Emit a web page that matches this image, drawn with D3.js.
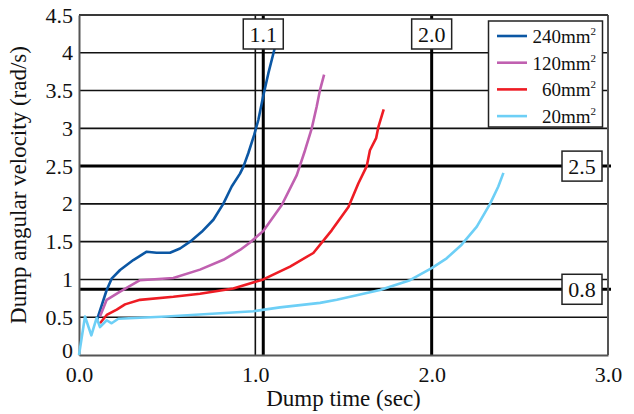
<!DOCTYPE html>
<html><head><meta charset="utf-8">
<script src="https://cdn.jsdelivr.net/npm/d3@7"></script>
<style>
html,body{margin:0;padding:0;background:#fff;}
text{font-family:"Liberation Serif","Times New Roman",serif;fill:#111;}
</style></head>
<body><svg id="c" width="634" height="414"></svg>
<script>
const seriesNames = ["240mm", "120mm", "60mm", "20mm"];
const seriesColors = ["#0b57a4", "#c060b0", "#ee1c24", "#6dcff6"];
const s240 = [[0.10,0.45],[0.157,0.86],[0.185,1.01],[0.233,1.125],[0.308,1.257],[0.384,1.367],[0.44,1.354],[0.516,1.354],[0.573,1.41],[0.63,1.5],[0.696,1.63],[0.762,1.79],[0.818,2.0],[0.866,2.23],[0.913,2.40],[0.932,2.49],[0.96,2.67],[0.993,2.91],[1.017,3.11],[1.046,3.44],[1.074,3.73],[1.112,4.08]];
const s120 = [[0.119,0.51],[0.157,0.73],[0.233,0.84],[0.346,0.99],[0.535,1.02],[0.686,1.13],[0.819,1.26],[0.913,1.39],[0.97,1.49],[1.045,1.64],[1.15,1.985],[1.235,2.38],[1.282,2.71],[1.32,3.0],[1.348,3.29],[1.367,3.51],[1.39,3.71]];
const s60 = [[0.119,0.42],[0.157,0.53],[0.214,0.60],[0.261,0.67],[0.346,0.73],[0.535,0.77],[0.686,0.81],[0.875,0.88],[1.045,1.0],[1.197,1.17],[1.329,1.35],[1.433,1.65],[1.528,1.96],[1.584,2.27],[1.632,2.50],[1.65,2.71],[1.685,2.87],[1.698,3.02],[1.728,3.25]];
const s20 = [[0,0],[0.034,0.51],[0.07,0.26],[0.10,0.49],[0.119,0.37],[0.157,0.46],[0.185,0.42],[0.223,0.48],[0.497,0.51],[0.989,0.58],[1.14,0.63],[1.367,0.69],[1.462,0.73],[1.707,0.86],[1.877,0.99],[2.0,1.15],[2.085,1.28],[2.17,1.46],[2.256,1.70],[2.331,2.0],[2.378,2.23],[2.407,2.41]];
const seriesData = [s240, s120, s60, s20];
const xTicks = [0, 1, 2, 3];
const yTicks = [0, 0.5, 1, 1.5, 2, 2.5, 3, 3.5, 4, 4.5];
const vMarkers = [1.045, 2.0];
const vMarkerLabels = ["1.1", "2.0"];
const hMarkers = [2.5, 0.87];
const hMarkerLabels = ["2.5", "0.8"];

const svg = d3.select("#c");
const L = 79, T = 15, R = 608, B = 355;
const x = d3.scaleLinear().domain([0, 3]).range([L, R]);
const y = d3.scaleLinear().domain([0, 4.5]).range([B, T]);

// horizontal grid
svg.append("g").selectAll("line").data(yTicks.slice(1)).join("line")
  .attr("x1", L).attr("x2", R).attr("y1", d => y(d)).attr("y2", d => y(d))
  .attr("stroke", "#111").attr("stroke-width", 1.6);
// thin vertical at 1.0
svg.append("line").attr("x1", x(1)).attr("x2", x(1)).attr("y1", T).attr("y2", B)
  .attr("stroke", "#111").attr("stroke-width", 1.6);
// thick markers
svg.append("g").selectAll("line").data(vMarkers).join("line")
  .attr("x1", d => x(d)).attr("x2", d => x(d)).attr("y1", T).attr("y2", B)
  .attr("stroke", "#000").attr("stroke-width", 3);
svg.append("g").selectAll("line").data(hMarkers).join("line")
  .attr("x1", L).attr("x2", R + 3).attr("y1", d => y(d)).attr("y2", d => y(d))
  .attr("stroke", "#000").attr("stroke-width", 3);

// frame
svg.append("line").attr("x1", R).attr("x2", R).attr("y1", T).attr("y2", B).attr("stroke", "#555").attr("stroke-width", 2);
svg.append("line").attr("x1", L).attr("x2", R).attr("y1", T).attr("y2", T).attr("stroke", "#333").attr("stroke-width", 1.6);

// axes
const xAxis = d3.axisBottom(x).tickValues(xTicks).tickFormat(d3.format(".1f")).tickSize(0).tickPadding(11);
const gx = svg.append("g").attr("transform", `translate(0,${B})`).call(xAxis);
gx.select(".domain").attr("stroke", "#555").attr("stroke-width", 2);
gx.selectAll("text").attr("font-size", 22).attr("font-family", "Liberation Serif").attr("fill", "#111");
const yAxis = d3.axisLeft(y).tickValues(yTicks).tickFormat(d => d3.format("")(d)).tickSize(0).tickPadding(6);
const gy = svg.append("g").attr("transform", `translate(${L},0)`).call(yAxis);
gy.select(".domain").attr("stroke", "#555").attr("stroke-width", 2);
gy.selectAll("text").attr("font-size", 22).attr("font-family", "Liberation Serif").attr("fill", "#111");
// nudge the "0" label up slightly so it doesn't collide with "0.0"
gy.selectAll(".tick").filter(d => d === 0).select("text").attr("dy", "0.12em");

// lines
const line = d3.line().x(d => x(d[0])).y(d => y(d[1]));
svg.append("g").selectAll("path").data(seriesData).join("path")
  .attr("d", line).attr("fill", "none")
  .attr("stroke", (d, i) => seriesColors[i]).attr("stroke-width", 2.6)
  .attr("stroke-linejoin", "round");

// marker labels
function box(cx, cy, label) {
  const w = 40, h = 30;
  svg.append("rect").attr("x", cx - w / 2).attr("y", cy - h / 2).attr("width", w).attr("height", h)
    .attr("fill", "#fff").attr("stroke", "#222").attr("stroke-width", 1.5);
  svg.append("text").attr("x", cx).attr("y", cy + 8).attr("text-anchor", "middle")
    .attr("font-size", 22).text(label);
}
vMarkers.forEach((v, i) => box(x(v), 34, vMarkerLabels[i]));
hMarkers.forEach((v, i) => box(582, y(v), hMarkerLabels[i]));

// legend
const lg = svg.append("g");
lg.append("rect").attr("x", 488.5).attr("y", 21).attr("width", 114).attr("height", 106)
  .attr("fill", "#fff").attr("stroke", "#222").attr("stroke-width", 1.5);
seriesNames.forEach((n, i) => {
  const yy = 36 + i * 26.7;
  lg.append("line").attr("x1", 497).attr("x2", 527).attr("y1", yy).attr("y2", yy)
    .attr("stroke", seriesColors[i]).attr("stroke-width", 2.6);
  const t = lg.append("text").attr("x", 596).attr("y", yy + 7).attr("text-anchor", "end").attr("font-size", 19);
  t.append("tspan").text(n);
  t.append("tspan").attr("font-size", 11).attr("dy", -8).text("2");
});

// axis titles
svg.append("text").attr("x", (L + R) / 2).attr("y", 406).attr("text-anchor", "middle")
  .attr("font-size", 23).text("Dump time (sec)");
svg.append("text").attr("transform", `translate(26,${(T + B) / 2}) rotate(-90)`).attr("text-anchor", "middle")
  .attr("font-size", 23).text("Dump angular velocity (rad/s)");
</script></body></html>
